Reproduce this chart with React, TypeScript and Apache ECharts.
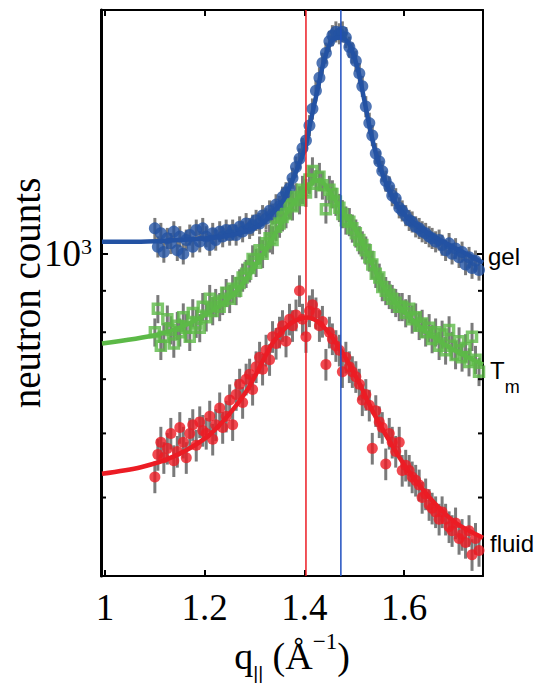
import React, { useEffect, useRef } from "react";
import * as echarts from "echarts";

// ---- data ----
const qData = [
  1.100, 1.106, 1.112, 1.118, 1.125, 1.132, 1.138, 1.145, 1.150, 1.157,
  1.163, 1.170, 1.176, 1.183, 1.190, 1.196, 1.203, 1.210, 1.216, 1.222,
  1.230, 1.236, 1.243, 1.250, 1.256, 1.263, 1.270, 1.276, 1.283, 1.290,
  1.296, 1.303, 1.310, 1.316, 1.323, 1.330, 1.336, 1.343, 1.350, 1.356,
  1.363, 1.370, 1.376, 1.383, 1.390, 1.396, 1.403, 1.410, 1.416, 1.423,
  1.430, 1.436, 1.443, 1.450, 1.456, 1.463, 1.470, 1.476, 1.483, 1.490,
  1.496, 1.503, 1.510, 1.516, 1.523, 1.530, 1.536, 1.543, 1.550, 1.556,
  1.563, 1.570, 1.576, 1.583, 1.590, 1.596, 1.603, 1.610, 1.616, 1.623,
  1.630, 1.636, 1.643, 1.650, 1.656, 1.663, 1.670, 1.676, 1.683, 1.690,
  1.696, 1.703, 1.710, 1.716, 1.723, 1.730, 1.736, 1.743, 1.750,
];

const gelCounts = [
  1075, 1020, 1060, 1005, 1045, 1030, 1065, 1010, 1050, 1000,
  1040, 1055, 1020, 1070, 1035, 1075, 1050, 1025, 1060, 1040,
  1065, 1050, 1070, 1055, 1070, 1055, 1080, 1065, 1090, 1075,
  1085, 1100, 1090, 1115, 1105, 1130, 1120, 1150, 1145, 1175,
  1190, 1205, 1240, 1280, 1310, 1350, 1380, 1440, 1510, 1590,
  1650, 1720, 1770, 1830, 1860, 1880, 1870, 1880, 1850, 1800,
  1770, 1730, 1670, 1610, 1520, 1450, 1400, 1330, 1300, 1265,
  1230, 1210, 1180, 1170, 1140, 1130, 1115, 1100, 1095, 1080,
  1075, 1065, 1060, 1050, 1045, 1035, 1040, 1025, 1010, 1030,
  1000, 1015, 990, 1005, 970, 990, 960, 980, 955,
];

const tmCounts = [
  800, 855, 770, 790, 830, 805, 775, 815, 800, 835,
  810, 790, 845, 820, 810, 860, 835, 880, 850, 870,
  860, 875, 895, 880, 905, 900, 920, 935, 945, 960,
  985, 975, 1010, 1000, 1030, 1045, 1040, 1080, 1090, 1110,
  1120, 1150, 1145, 1175, 1165, 1200, 1190, 1235, 1265, 1220,
  1245, 1215, 1135, 1200, 1185, 1160, 1140, 1120, 1100, 1095,
  1075, 1060, 1040, 1025, 1010, 990, 970, 945, 935, 910,
  900, 890, 880, 870, 860, 860, 845, 855, 830, 835,
  815, 820, 800, 810, 785, 800, 770, 795, 760, 805,
  770, 750, 780, 745, 765, 735, 790, 740, 715,
];

const fluidCounts = [
  530, 565, 585, 560, 575, 600, 555, 570, 610, 585,
  560, 600, 615, 580, 620, 605, 600, 630, 590, 615,
  645, 610, 630, 660, 615, 670, 690, 655, 700, 710,
  680, 725, 745, 720, 760, 740, 790, 775, 800, 815,
  780, 830, 815, 840, 900, 830, 790, 850, 865, 845,
  815, 825, 730, 800, 785, 770, 760, 715, 745, 725,
  715, 705, 690, 660, 670, 650, 575, 640, 620, 610,
  550, 600, 585, 570, 585, 540, 548, 540, 530, 525,
  518, 500, 505, 490, 485, 480, 470, 480, 470, 460,
  455, 465, 445, 450, 440, 455, 425, 445, 430,
];

const gelFitQ = [0.994, 1.072, 1.152, 1.232, 1.272, 1.312, 1.338, 1.358, 1.372, 1.386, 1.402, 1.412, 1.426, 1.438, 1.452, 1.462, 1.472, 1.482, 1.492, 1.506, 1.518, 1.532, 1.546, 1.566, 1.592, 1.632, 1.672, 1.712, 1.758];
const gelFit = [1035, 1035, 1040, 1049, 1061, 1086, 1126, 1165, 1216, 1276, 1354, 1454, 1592, 1719, 1824, 1845, 1850, 1840, 1804, 1700, 1570, 1421, 1313, 1213, 1133, 1076, 1040, 1009, 975];

const tmFitQ = [0.994, 1.106, 1.172, 1.238, 1.272, 1.306, 1.338, 1.372, 1.406, 1.418, 1.428, 1.438, 1.458, 1.478, 1.506, 1.532, 1.558, 1.592, 1.638, 1.672, 1.706, 1.758];
const tmFit = [775, 795, 822, 870, 911, 975, 1049, 1143, 1209, 1228, 1232, 1222, 1175, 1123, 1061, 983, 911, 858, 806, 779, 757, 730];

const fluidFitQ = [0.994, 1.072, 1.138, 1.206, 1.252, 1.286, 1.318, 1.338, 1.372, 1.406, 1.438, 1.472, 1.506, 1.538, 1.572, 1.606, 1.638, 1.672, 1.706, 1.758];
const fluidFit = [535, 545, 562, 595, 637, 680, 740, 779, 820, 834, 813, 762, 700, 637, 585, 542, 511, 484, 464, 446];

const xTicks = [1, 1.2, 1.4, 1.6];
const yMinorTicks = [500, 600, 700, 800, 900];
const peakFluid = 1.403;
const peakGel = 1.473;
const relErrGel = 0.03;
const relErrTm = 0.04;
const relErrFluid = 0.045;

const X_MIN = 0.992;
const X_MAX = 1.758;
const Y_MIN = 400;
const Y_MAX = 2000;

const BLUE = "#2352a3";
const GREEN = "#5cb947";
const RED = "#ec1c24";
const SERIF = "'Liberation Serif', 'Times New Roman', serif";
const SANS = "'Liberation Sans', Arial, sans-serif";

function errorBars(counts: number[], rel: number) {
  return {
    type: "custom",
    silent: true,
    z: 1,
    data: qData.map((q, i) => [q, counts[i] * (1 - rel), counts[i] * (1 + rel)]),
    encode: { x: 0, y: [1, 2] },
    renderItem: (params: any, api: any) => {
      const lo = api.coord([api.value(0), api.value(1)]);
      const hi = api.coord([api.value(0), api.value(2)]);
      return {
        type: "line",
        shape: { x1: lo[0], y1: lo[1], x2: hi[0], y2: hi[1] },
        style: { stroke: "#7a7a7a", lineWidth: 3 },
      };
    },
  };
}

function fitLine(qs: number[], vals: number[], color: string, label: any) {
  return {
    type: "line",
    data: qs.map((q, i) => [q, vals[i]]),
    showSymbol: false,
    smooth: 0.3,
    z: 4,
    silent: true,
    lineStyle: { color, width: 4.5 },
    endLabel: label,
  };
}

function vline(q: number, color: string) {
  return {
    type: "line",
    data: [[q, Y_MIN], [q, Y_MAX]],
    showSymbol: false,
    silent: true,
    z: 6,
    lineStyle: { color, width: 1.5 },
  };
}

export default function App() {
  const ref = useRef<HTMLDivElement>(null);
  useEffect(() => {
    if (!ref.current) return;
    const chart = echarts.init(ref.current, undefined, { renderer: "svg" });
    const axisLineStyle = { color: "#000", width: 2 };
    const option: any = {
      animation: false,
      backgroundColor: "#fff",
      grid: { left: 101, right: 56, top: 10, bottom: 110, containLabel: false, outerBoundsMode: "none" },
      xAxis: [
        {
          type: "value",
          min: X_MIN,
          max: X_MAX,
          position: "bottom",
          axisLine: { show: true, onZero: false, lineStyle: axisLineStyle },
          axisTick: { show: true, inside: true, length: 6, customValues: xTicks, lineStyle: { color: "#000", width: 2 } },
          axisLabel: {
            customValues: xTicks,
            formatter: (v: number) => String(v),
            fontFamily: SERIF,
            fontSize: 37,
            color: "#000",
            margin: 13,
          },
          splitLine: { show: false },
          name: "{n|q}{sub|||}{n| (Å}{sup|−1}{n|)}",
          nameLocation: "middle",
          nameGap: 54,
          nameMoveOverlap: false,
          nameTextStyle: {
            color: "#000",
            fontFamily: SERIF,
            rich: {
              n: { fontFamily: SERIF, fontSize: 38, color: "#000", lineHeight: 52, verticalAlign: "middle" },
              sup: { fontFamily: SERIF, fontSize: 23, color: "#000", lineHeight: 24, verticalAlign: "top" },
              sub: { fontFamily: SANS, fontSize: 19, color: "#000", lineHeight: 12, verticalAlign: "bottom" },
            },
          },
        },
        {
          type: "value",
          min: X_MIN,
          max: X_MAX,
          position: "top",
          axisLine: { show: true, onZero: false, lineStyle: axisLineStyle },
          axisTick: { show: true, inside: true, length: 6, customValues: xTicks, lineStyle: { color: "#000", width: 2 } },
          axisLabel: { show: false },
          splitLine: { show: false },
        },
      ],
      yAxis: [
        {
          type: "log",
          min: Y_MIN,
          max: Y_MAX,
          position: "left",
          axisLine: { show: true, onZero: false, lineStyle: { color: "#000", width: 3 } },
          axisTick: { show: true, inside: true, length: 7, lineStyle: { color: "#000", width: 2 } },
          axisLabel: {
            formatter: (v: number) => (Math.abs(v - 1000) < 1 ? "{b|10}{s|3}" : ""),
            margin: 9,
            rich: {
              b: { fontFamily: SERIF, fontSize: 37, color: "#000", lineHeight: 36, verticalAlign: "middle" },
              s: { fontFamily: SERIF, fontSize: 22, color: "#000", lineHeight: 12, verticalAlign: "top" },
            },
          },
          splitLine: { show: false },
          name: "neutron counts",
          nameLocation: "middle",
          nameGap: 58,
          nameMoveOverlap: false,
          nameTextStyle: { fontFamily: SERIF, fontSize: 39, lineHeight: 34, color: "#000" },
        },
        {
          type: "log",
          min: Y_MIN,
          max: Y_MAX,
          position: "right",
          axisLine: { show: true, onZero: false, lineStyle: axisLineStyle },
          axisTick: { show: true, inside: true, length: 7, lineStyle: { color: "#000", width: 2 } },
          axisLabel: { show: false },
          splitLine: { show: false },
        },
      ],
      series: [
        {
          type: "custom",
          silent: true,
          z: 7,
          data: yMinorTicks.map((v) => [X_MIN, v]),
          renderItem: (params: any, api: any) => {
            const p = api.coord([api.value(0), api.value(1)]);
            const cs = params.coordSys;
            const len = 5;
            return {
              type: "group",
              children: [
                { type: "line", shape: { x1: cs.x, y1: p[1], x2: cs.x + len, y2: p[1] }, style: { stroke: "#000", lineWidth: 2 } },
                { type: "line", shape: { x1: cs.x + cs.width - len, y1: p[1], x2: cs.x + cs.width, y2: p[1] }, style: { stroke: "#000", lineWidth: 2 } },
              ],
            };
          },
        },
        errorBars(gelCounts, relErrGel),
        errorBars(tmCounts, relErrTm),
        errorBars(fluidCounts, relErrFluid),
        {
          type: "scatter",
          z: 3,
          silent: true,
          symbol: "circle",
          symbolSize: 12,
          itemStyle: { color: BLUE },
          data: qData.map((q, i) => [q, gelCounts[i]]),
        },
        {
          type: "scatter",
          z: 3,
          silent: true,
          symbol: "rect",
          symbolSize: 9,
          itemStyle: { color: "rgba(255,255,255,0)", borderColor: GREEN, borderWidth: 3.5 },
          data: qData.map((q, i) => [q, tmCounts[i]]),
        },
        {
          type: "scatter",
          z: 3,
          silent: true,
          symbol: "circle",
          symbolSize: 11,
          itemStyle: { color: RED },
          data: qData.map((q, i) => [q, fluidCounts[i]]),
        },
        fitLine(gelFitQ, gelFit, BLUE, {
          show: true,
          formatter: "gel",
          fontFamily: SANS,
          fontSize: 24,
          color: "#000",
          distance: 5,
          offset: [0, -6],
        }),
        fitLine(tmFitQ, tmFit, GREEN, {
          show: true,
          formatter: "{t|T}{m|m}",
          distance: 7,
          offset: [0, 6],
          rich: {
            t: { fontFamily: SANS, fontSize: 24, color: "#000", lineHeight: 24, verticalAlign: "top" },
            m: { fontFamily: SANS, fontSize: 18, color: "#000", lineHeight: 14, padding: [20, 0, 0, 0], verticalAlign: "top" },
          },
        }),
        fitLine(fluidFitQ, fluidFit, RED, {
          show: true,
          formatter: "fluid",
          fontFamily: SANS,
          fontSize: 24,
          color: "#000",
          distance: 7,
          offset: [0, 6],
        }),
        vline(peakFluid, RED),
        vline(peakGel, "#2050c0"),
      ],
    };
    chart.setOption(option);
    return () => chart.dispose();
  }, []);
  return (
    <div
      ref={ref}
      style={{ position: "fixed", left: 0, top: 0, width: 539, height: 686, background: "#fff" }}
    />
  );
}
